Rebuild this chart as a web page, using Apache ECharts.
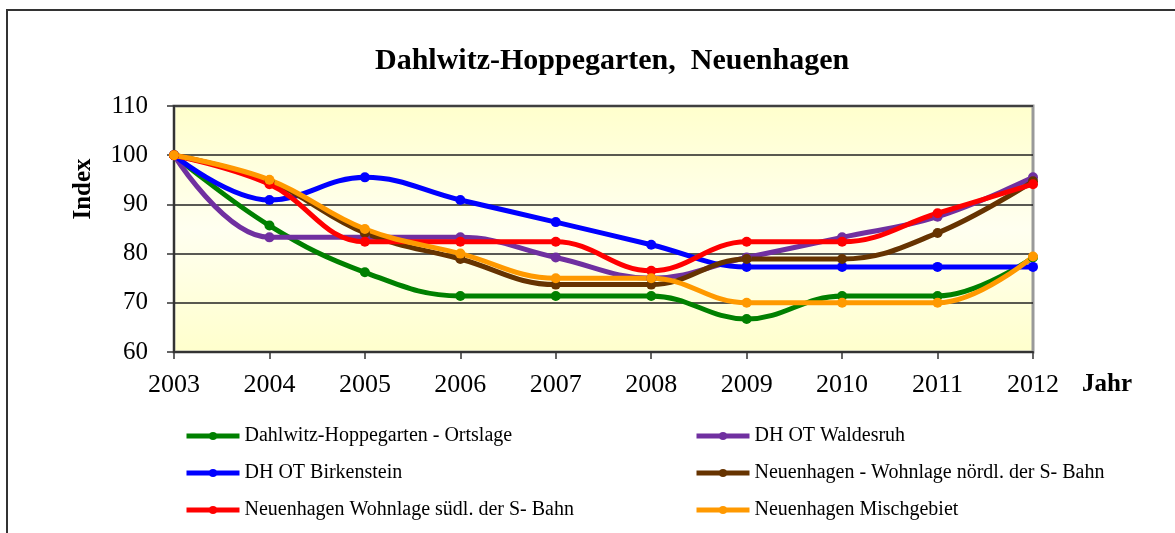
<style>body { margin: 0; }</style>
<script src="https://cdn.jsdelivr.net/npm/echarts@6/dist/echarts.min.js"></script>

<div id="main" style="width:1175px;height:533px;"></div>
<script type="text/javascript">
    var years = ['2003', '2004', '2005', '2006', '2007', '2008', '2009', '2010', '2011', '2012'];
    var seriesNames = [
        'Dahlwitz-Hoppegarten - Ortslage',
        'DH OT Waldesruh',
        'DH OT Birkenstein',
        'Neuenhagen - Wohnlage nördl. der S- Bahn',
        'Neuenhagen Wohnlage südl. der S- Bahn',
        'Neuenhagen Mischgebiet'
    ];
    var ortslage    = [100, 85.7, 76.2, 71.4, 71.4, 71.4, 66.7, 71.4, 71.4, 79.2];
    var waldesruh   = [100, 83.3, 83.3, 83.3, 79.2, 75.0, 79.2, 83.3, 87.5, 95.5];
    var birkenstein = [100, 90.9, 95.5, 90.9, 86.4, 81.8, 77.3, 77.3, 77.3, 77.3];
    var nordS       = [100, 94.7, 84.2, 78.9, 73.7, 73.7, 78.9, 78.9, 84.2, 94.7];
    var suedS       = [100, 94.1, 82.4, 82.4, 82.4, 76.5, 82.4, 82.4, 88.2, 94.1];
    var misch       = [100, 95.0, 85.0, 80.0, 75.0, 75.0, 70.0, 70.0, 70.0, 79.4];
    var colors = ['#008000', '#7030a0', '#0000ff', '#663300', '#ff0000', '#ff9900'];

    var serif = "'Liberation Serif', 'Times New Roman', serif";

    function line(name, data, color) {
        return {
            name: name,
            type: 'line',
            data: data,
            smooth: 0.4,
            symbol: 'circle',
            symbolSize: 10,
            lineStyle: { width: 5, color: color },
            itemStyle: { color: color }
        };
    }

    function legendCol(names, left) {
        return {
            data: names,
            orient: 'vertical',
            left: left,
            top: 421,
            itemWidth: 53,
            itemHeight: 10,
            itemGap: 17,
            lineStyle: { width: 5 },
            textStyle: { fontFamily: serif, fontSize: 20, color: '#000' }
        };
    }

    var myChart = echarts.init(document.getElementById('main'));
    var option = {
        animation: false,
        backgroundColor: '#ffffff',
        title: {
            text: 'Dahlwitz-Hoppegarten,  Neuenhagen',
            left: 370,
            top: 41,
            textStyle: { fontFamily: serif, fontSize: 30, fontWeight: 'bold', color: '#000' }
        },
        graphic: [{
            type: 'rect',
            shape: { x: 7, y: 10, width: 1300, height: 700 },
            style: { fill: 'none', stroke: '#333', lineWidth: 2 }
        }],
        legend: [
            legendCol([seriesNames[0], seriesNames[2], seriesNames[4]], 179),
            legendCol([seriesNames[1], seriesNames[3], seriesNames[5]], 689)
        ],
        grid: {
            left: 174,
            right: 142,
            top: 106,
            bottom: 181,
            show: true,
            borderColor: '#999',
            borderWidth: 3,
            backgroundColor: new echarts.graphic.LinearGradient(0, 0, 0, 1, [
                { offset: 0, color: '#ffffcc' },
                { offset: 0.5, color: '#fffff0' },
                { offset: 1, color: '#ffffcc' }
            ])
        },
        xAxis: {
            type: 'category',
            data: years,
            boundaryGap: false,
            name: 'Jahr',
            nameLocation: 'end',
            nameGap: 49,
            nameTextStyle: {
                fontFamily: serif, fontSize: 25, fontWeight: 'bold', color: '#000',
                verticalAlign: 'top', padding: [20, 0, 0, 0]
            },
            axisLine: { lineStyle: { color: '#333', width: 2 } },
            axisTick: { show: true, length: 7, lineStyle: { color: '#333', width: 1.5 } },
            axisLabel: { margin: 20, fontFamily: serif, fontSize: 26, color: '#000' }
        },
        yAxis: {
            type: 'value',
            min: 60,
            max: 110,
            interval: 10,
            name: 'Index',
            nameLocation: 'middle',
            nameGap: 78,
            nameRotate: 90,
            nameTextStyle: {
                fontFamily: serif, fontSize: 25, fontWeight: 'bold', color: '#000',
                padding: [0, 0, 0, 80]
            },
            axisLine: { show: true, lineStyle: { color: '#333', width: 2 } },
            axisTick: { show: true, length: 7, lineStyle: { color: '#333', width: 1.5 } },
            axisLabel: { margin: 26, fontFamily: serif, fontSize: 25, color: '#000' },
            splitLine: { lineStyle: { color: '#222', width: 1.5 } }
        },
        series: [
            line(seriesNames[0], ortslage, colors[0]),
            line(seriesNames[1], waldesruh, colors[1]),
            line(seriesNames[2], birkenstein, colors[2]),
            line(seriesNames[3], nordS, colors[3]),
            line(seriesNames[4], suedS, colors[4]),
            line(seriesNames[5], misch, colors[5])
        ]
    };
    myChart.setOption(option);
</script>
